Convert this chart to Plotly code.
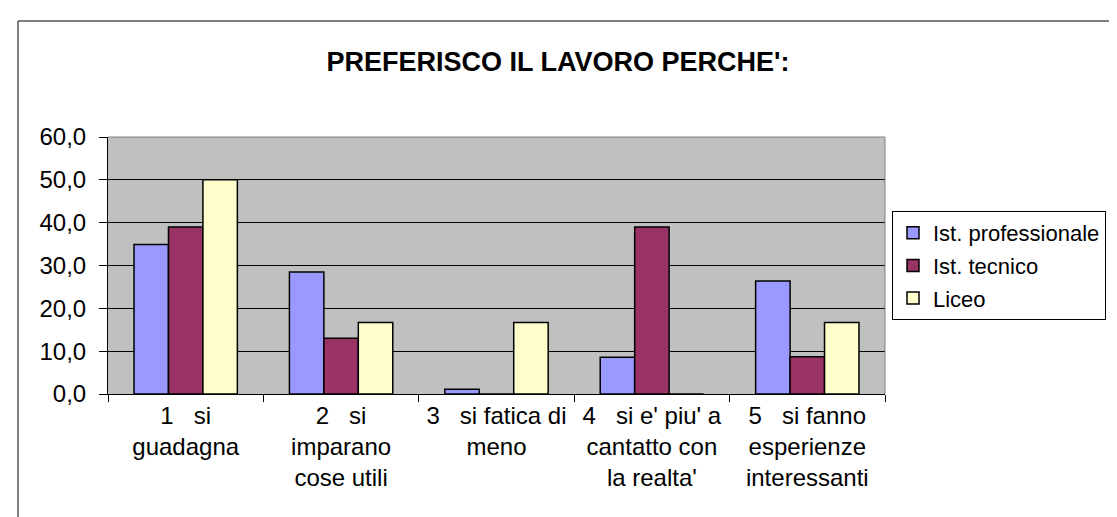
import plotly.graph_objects as go

# ---- data ----
categories = [
    "1   si<br>guadagna",
    "2   si<br>imparano<br>cose utili",
    "3   si fatica di<br>meno",
    "4   si e' piu' a<br>cantatto con<br>la realta'",
    "5   si fanno<br>esperienze<br>interessanti",
]
series_names = ["Ist. professionale", "Ist. tecnico", "Liceo"]
prof_values = [34.9, 28.5, 1.1, 8.6, 26.4]
tecnico_values = [39.0, 13.0, 0.0, 39.0, 8.7]
liceo_values = [50.0, 16.7, 16.7, 0.0, 16.7]
y_tick_values = [0, 10, 20, 30, 40, 50, 60]
title_text = "PREFERISCO IL LAVORO PERCHE':"

colors = ["#9999FF", "#993366", "#FFFFCC"]
font_family = "Arial, Liberation Sans, sans-serif"

W, H = 1117, 517
L, R, T, B = 100, 240, 129, 131
pw, ph = W - L - R, H - T - B

def px_x(x):
    return (x - L) / pw

def px_y(y):
    return (H - B - y) / ph

fig = go.Figure()
for i, (name, vals) in enumerate(zip(series_names, [prof_values, tecnico_values, liceo_values])):
    fig.add_trace(go.Bar(
        x=categories, y=vals, name=name,
        marker=dict(color=colors[i], line=dict(color="black", width=1.5)),
        legendgroup=name,
    ))

fig.update_layout(
    width=W, height=H,
    margin=dict(l=L, r=R, t=T, b=B, autoexpand=False),
    paper_bgcolor="white",
    plot_bgcolor="#C0C0C0",
    separators=",.",
    bargap=0.335, bargroupgap=0,
    barmode="group",
    font=dict(family=font_family, size=24, color="black"),
    title=dict(text="<b>" + title_text + "</b>", x=550 / W, xanchor="center",
               y=1 - 54 / H, yanchor="middle", xref="container", yref="container",
               font=dict(family=font_family, size=27, color="black")),
    legend=dict(
        x=px_x(884), xanchor="left", y=px_y(203), yanchor="top",
        bgcolor="white", bordercolor="black", borderwidth=1,
        font=dict(family=font_family, size=22, color="black"),
        traceorder="grouped", tracegroupgap=1, itemwidth=30,
    ),
    showlegend=True,
)

fig.update_xaxes(
    type="category", tickson="boundaries", ticks="outside", ticklen=7,
    tickcolor="black", showline=True, linecolor="black", linewidth=1,
    showgrid=False, tickfont=dict(size=24, color="black"), tickangle=0,
)
fig.update_yaxes(
    range=[0, 60], tickvals=y_tick_values, tickformat=".1f",
    ticks="outside", ticklen=8, tickcolor="black", ticklabelstandoff=8,
    showline=True, linecolor="black", linewidth=1,
    showgrid=True, gridcolor="black", gridwidth=1, zeroline=False,
    tickfont=dict(size=24, color="black"),
)

# plot-area border (top and right, gray)
fig.add_shape(type="line", xref="paper", yref="paper", x0=0, x1=1, y0=1, y1=1,
              line=dict(color="#808080", width=1), layer="above")
fig.add_shape(type="line", xref="paper", yref="paper", x0=1, x1=1, y0=0, y1=1,
              line=dict(color="#808080", width=1), layer="above")
# chart-area border
fig.add_shape(type="rect", xref="paper", yref="paper",
              x0=px_x(10), x1=px_x(1130), y0=px_y(530), y1=px_y(13),
              line=dict(color="black", width=1), fillcolor="rgba(0,0,0,0)", layer="below")

fig.write_html("out.html")
